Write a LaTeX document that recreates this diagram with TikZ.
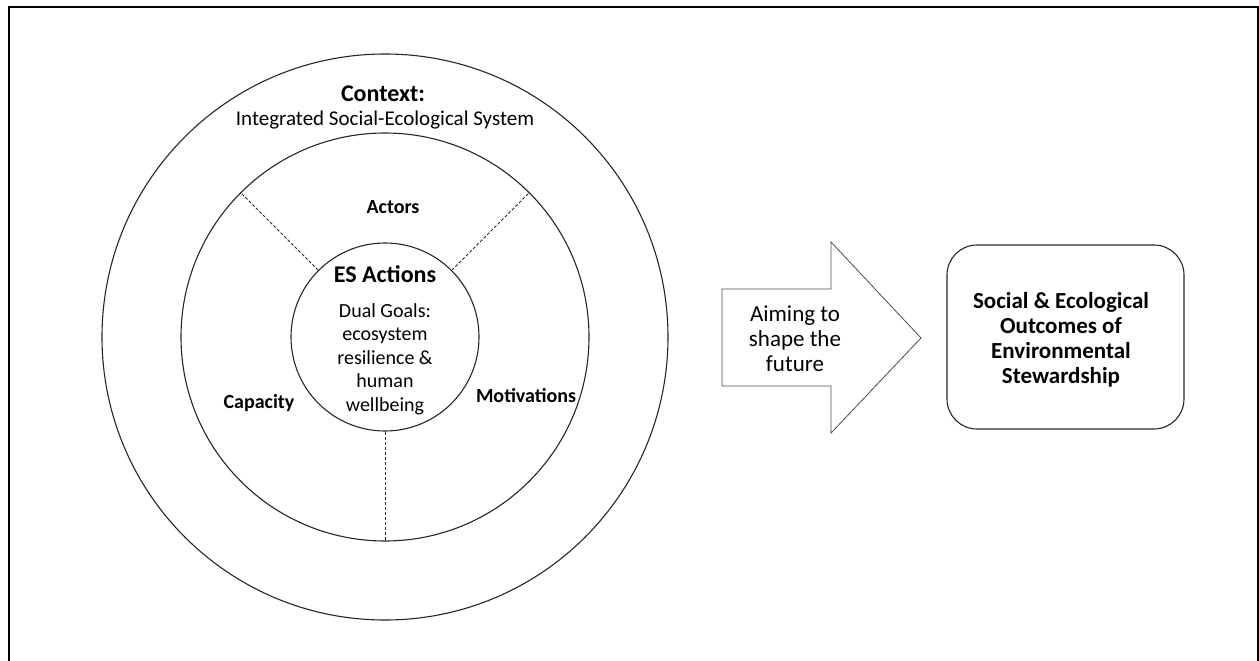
\documentclass[tikz,border=0pt]{standalone}
\usepackage{fontspec}
\setmainfont{Carlito}
\usetikzlibrary{positioning}

\begin{document}
\begin{tikzpicture}[x=1pt, y=-1pt,
    ring/.style={circle, draw=black!85, line width=1.1pt, inner sep=0pt},
    divider/.style={black!85, line width=0.9pt, dash pattern=on 3pt off 2pt},
    sector/.style={font=\bfseries\fontsize{20}{24}\selectfont, anchor=base},
  ]
  \def\cx{385}
  \def\cy{337}
  \useasboundingbox (0,0) rectangle (1259,661);

  % Frame
  \draw[line width=2pt] (9,661) -- (9,7) -- (1257.5,7) -- (1257.5,661);

  % Rings
  \node[ring, minimum size=566pt] (context) at (\cx,\cy) {};
  \node[ring, minimum size=408pt] (mid) at (\cx,\cy) {};
  \node[ring, minimum size=188pt] (core) at (\cx,\cy) {};

  % Dividers
  \draw[divider] (core.135) -- (mid.135);
  \draw[divider] (core.45) -- (mid.45);
  \draw[divider] (core.270) -- (mid.270);

  % Labels
  \node[font=\bfseries\fontsize{24}{28}\selectfont, anchor=base] (ctxtitle) at (383,101) {Context:};
  \node[font=\fontsize{21}{25}\selectfont, anchor=base] (ctxsys) at (385,125) {Integrated Social-Ecological System};
  \node[sector] (actors) at (393,213) {Actors};
  \node[sector] (capacity) at (259,408) {Capacity};
  \node[sector] (motiv) at (526,402) {Motivations};
  \node[font=\bfseries\fontsize{24}{28}\selectfont, anchor=base] (esact) at (385,282) {ES Actions};
  \node[font=\fontsize{20}{23.5}\selectfont, align=center] (goals) at (385,359) {Dual Goals:\\ecosystem\\resilience \&\\human\\wellbeing};

  % Arrow
  \draw[line width=0.8pt, black!70] (722,289) -- (831,289) -- (831,242) -- (921,338)
    -- (831,433) -- (831,386) -- (722,386) -- cycle;
  \node[font=\fontsize{23}{25}\selectfont, align=center] (aim) at (795,339) {Aiming to\\shape the\\future};

  % Outcomes
  \node[draw=black!85, line width=1.1pt, rounded corners=30pt, minimum width=237pt, minimum height=184pt] (outcomes) at (1065.5,337) {};
  \node[align=center, font=\bfseries\fontsize{23}{25}\selectfont] (outtext) at (1061,340)
    {Social \& Ecological\\Outcomes of\\Environmental\\Stewardship};
\end{tikzpicture}
\end{document}
